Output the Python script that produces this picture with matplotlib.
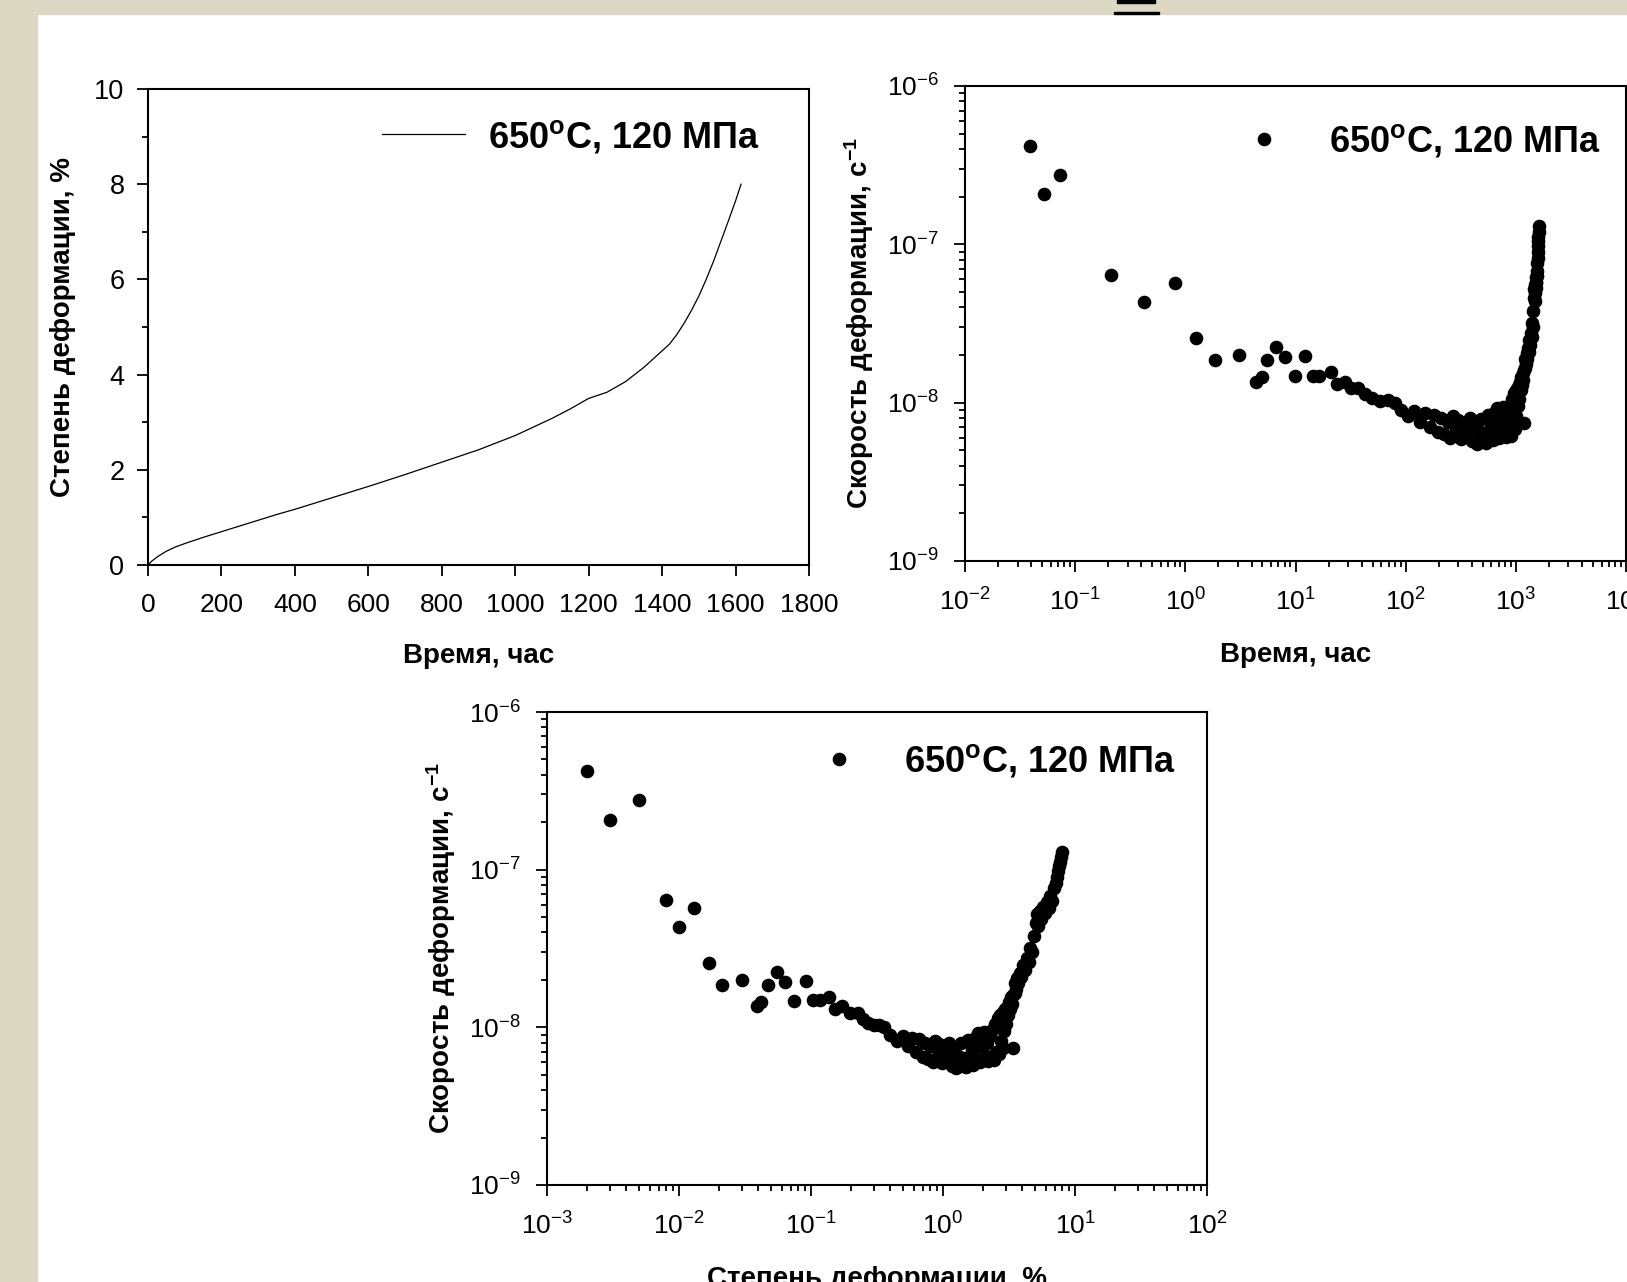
import numpy as np
import matplotlib
matplotlib.use("Agg")
import matplotlib.pyplot as plt
from matplotlib.patches import Rectangle
from matplotlib.ticker import MultipleLocator, LogLocator, NullFormatter

plt.rcParams['font.family'] = ['Liberation Sans', 'DejaVu Sans']
plt.rcParams['mathtext.fontset'] = 'custom'
plt.rcParams['mathtext.rm'] = 'Liberation Sans'
plt.rcParams['mathtext.bf'] = 'Liberation Sans:bold'
plt.rcParams['mathtext.it'] = 'Liberation Sans:italic'
plt.rcParams['axes.unicode_minus'] = False

# Кривая ползучести (время, ч -> деформация, %)
curve_time = [0, 10, 25, 50, 75, 100, 150, 200, 250, 300, 350, 400, 500, 600, 700,
              800, 900, 1000, 1100, 1150, 1200, 1250, 1300, 1350, 1400, 1420, 1440,
              1460, 1480, 1500, 1520, 1540, 1560, 1580, 1600, 1615]
curve_strain = [0, 0.08, 0.17, 0.29, 0.38, 0.45, 0.58, 0.70, 0.82, 0.94, 1.06, 1.17,
                1.41, 1.65, 1.90, 2.16, 2.42, 2.72, 3.08, 3.28, 3.50, 3.63, 3.85, 4.15,
                4.50, 4.64, 4.84, 5.08, 5.35, 5.65, 6.00, 6.38, 6.80, 7.22, 7.65, 8.00]

# Точки скорости деформации: время (ч), деформация (%), скорость (1/с)
pt_time = [0.039, 0.052, 0.073, 0.21, 0.42, 0.80, 1.25, 1.87, 3.1, 4.4, 5.0, 5.5, 6.6,
           8.0, 9.9, 12.3, 14.4, 16.5, 21, 24, 28, 32, 37, 43, 49, 58, 69, 80,
           90, 105, 120, 135, 150, 165, 180, 195, 210, 225, 240, 255, 270, 285, 300,
           320, 340, 360, 380, 400, 420, 440, 460, 480, 500, 520, 540, 560, 580, 600,
           620, 640, 660, 680, 700, 720, 740, 760, 780, 800, 820, 840, 860, 880, 900,
           920, 940, 960, 980, 1000,
           1010, 1020, 1030, 1040, 1050, 1060, 1075, 1090, 1105, 1120, 1135, 1150,
           1165, 1180, 1190, 1200, 1215, 1230, 1250, 1270, 1290, 1310, 1330, 1350,
           1370, 1390, 1410, 1430, 1445, 1460, 1470, 1480, 1490, 1500, 1510, 1520,
           1530, 1540, 1550, 1560, 1570, 1580, 1588, 1595, 1600, 1605, 1610, 1615]
pt_strain = [0.002, 0.003, 0.005, 0.008, 0.010, 0.013, 0.017, 0.021, 0.030, 0.039, 0.042,
             0.047, 0.055, 0.064, 0.074, 0.091, 0.104, 0.117, 0.138, 0.152, 0.171, 0.197,
             0.228, 0.249, 0.27, 0.30, 0.33, 0.36,
             0.40, 0.45, 0.50, 0.54, 0.58, 0.62, 0.66, 0.70, 0.73, 0.77, 0.80, 0.84, 0.87,
             0.91, 0.94, 0.99, 1.03, 1.08, 1.12, 1.17, 1.22, 1.26, 1.31, 1.36, 1.41, 1.45,
             1.50, 1.55, 1.60, 1.65, 1.70, 1.75, 1.80, 1.85, 1.90, 1.95, 2.00, 2.05, 2.10,
             2.16, 2.21, 2.26, 2.31, 2.37, 2.42, 2.48, 2.54, 2.60, 2.66, 2.72,
             2.76, 2.80, 2.83, 2.87, 2.90, 2.94, 3.00, 3.05, 3.10, 3.17, 3.22, 3.28,
             3.35, 3.42, 3.40, 3.50, 3.54, 3.58, 3.63, 3.72, 3.80, 3.90, 4.02, 4.15,
             4.30, 4.45, 4.57, 4.75, 4.90, 5.05, 5.15, 5.25, 5.40, 5.55, 5.70, 5.90,
             6.10, 6.30, 6.50, 6.70, 6.90, 7.15, 7.30, 7.45, 7.60, 7.75, 7.85, 8.00]
pt_rate = [4.2e-7, 2.07e-7, 2.75e-7, 6.4e-8, 4.3e-8, 5.7e-8, 2.55e-8, 1.85e-8, 2.0e-8,
           1.36e-8, 1.45e-8, 1.85e-8, 2.25e-8, 1.93e-8, 1.47e-8, 1.98e-8, 1.48e-8, 1.48e-8,
           1.56e-8, 1.31e-8, 1.36e-8, 1.23e-8, 1.23e-8, 1.13e-8, 1.07e-8, 1.03e-8, 1.04e-8,
           1.0e-8,
           9.0e-9, 8.2e-9, 8.8e-9, 7.6e-9, 8.6e-9, 7.0e-9, 8.4e-9, 6.5e-9, 8.0e-9, 6.3e-9,
           7.6e-9, 6.0e-9, 8.2e-9, 6.6e-9, 7.8e-9, 5.9e-9, 7.2e-9, 6.1e-9, 8.0e-9, 5.7e-9,
           7.0e-9, 5.5e-9, 6.6e-9, 7.9e-9, 5.7e-9, 6.4e-9, 5.6e-9, 8.3e-9, 6.0e-9, 7.2e-9,
           5.8e-9, 8.6e-9, 6.3e-9, 9.2e-9, 6.0e-9, 7.6e-9, 6.2e-9, 9.4e-9, 6.6e-9, 8.0e-9,
           6.1e-9, 8.8e-9, 6.4e-9, 9.6e-9, 6.2e-9, 1.05e-8, 7.0e-9, 1.15e-8, 6.8e-9, 1.2e-8,
           8.2e-9, 1.1e-8, 7.4e-9, 1.25e-8, 9.5e-9, 1.3e-8, 1.05e-8, 1.35e-8, 1.2e-8,
           1.45e-8, 1.3e-8, 1.55e-8, 1.4e-8, 1.6e-8, 7.4e-9, 1.65e-8, 1.9e-8, 1.75e-8,
           2.05e-8, 1.9e-8, 2.2e-8, 2.1e-8, 2.5e-8, 2.3e-8, 2.75e-8, 2.6e-8, 3.2e-8,
           3.0e-8, 3.8e-8, 4.6e-8, 5.2e-8, 4.4e-8, 5.5e-8, 4.9e-8, 5.8e-8, 5.3e-8,
           6.2e-8, 5.7e-8, 6.8e-8, 6.3e-8, 7.6e-8, 8.2e-8, 9.0e-8, 9.8e-8, 1.05e-7,
           1.12e-7, 1.2e-7, 1.3e-7]

legend_label = "650$^{\\mathbf{o}}$C, 120 МПа"

W, H = 1627, 1282
fig = plt.figure(figsize=(W / 100, H / 100), dpi=100, facecolor='white')

# бежевая рамка слайда
beige = '#dcd8c3'
fig.patches.append(Rectangle((0, 1 - 14 / H), 1, 14 / H, transform=fig.transFigure,
                             color=beige, zorder=0))
fig.patches.append(Rectangle((0, 0), 37 / W, 1, transform=fig.transFigure,
                             color=beige, zorder=0))
fig.patches.append(Rectangle((1117 / W, 1 - 3 / H), 38 / W, 3 / H, transform=fig.transFigure,
                             color='black', zorder=1))
fig.patches.append(Rectangle((1114 / W, 1 - 14 / H), 45 / W, 2.5 / H, transform=fig.transFigure,
                             color='black', zorder=1))


def axes_px(left, top, right, bottom):
    return fig.add_axes([left / W, 1 - bottom / H, (right - left) / W, (bottom - top) / H])


def style(ax, size):
    for s in ax.spines.values():
        s.set_linewidth(1.5)
    ax.tick_params(which='both', direction='out', top=False, right=False,
                   labelsize=size, width=1.3)
    ax.tick_params(which='major', length=8)
    ax.tick_params(which='minor', length=4.5)


lab_font = dict(fontsize=20, fontweight='bold')
leg_prop = dict(size=26, weight='bold')

# Деформация от времени
ax1 = axes_px(148, 89, 809, 565)
ax1.plot(curve_time, curve_strain, color='black', lw=0.9, label=legend_label)
ax1.set_xlim(0, 1800)
ax1.set_ylim(0, 10)
ax1.xaxis.set_major_locator(MultipleLocator(200))
ax1.yaxis.set_major_locator(MultipleLocator(2))
ax1.yaxis.set_minor_locator(MultipleLocator(1))
style(ax1, 19.5)
ax1.tick_params(axis='x', pad=12, labelsize=19)
ax1.tick_params(axis='y', pad=9)
ax1.set_xlabel("Время, час", labelpad=19, **lab_font)
ax1.set_ylabel("Степень деформации, %", labelpad=13, **lab_font)
ax1.legend(frameon=False, loc='center right', bbox_to_anchor=(0.926, 0.90),
           prop=leg_prop, handlelength=2.3, handletextpad=0.65,
           borderpad=0, borderaxespad=0)


def log_axes(ax, xmin, xmax):
    ax.set_xscale('log')
    ax.set_yscale('log')
    ax.set_xlim(xmin, xmax)
    ax.set_ylim(1e-9, 1e-6)
    for axis in (ax.xaxis, ax.yaxis):
        axis.set_major_locator(LogLocator(base=10, numticks=20))
        axis.set_minor_locator(LogLocator(base=10, subs=np.arange(2, 10), numticks=20))
        axis.set_minor_formatter(NullFormatter())
    style(ax, 19)
    ax.tick_params(axis='x', pad=12)
    ax.tick_params(axis='y', pad=11)


# Скорость от времени
ax2 = axes_px(965, 86, 1626, 561)
ax2.plot(pt_time, pt_rate, 'o', color='black', ms=8.8, label=legend_label)
log_axes(ax2, 1e-2, 1e4)
ax2.set_xlabel("Время, час", labelpad=19, **lab_font)
ax2.set_ylabel("Скорость деформации, с$^{\\mathbf{-1}}$", labelpad=8, **lab_font)
ax2.legend(frameon=False, loc='center right', bbox_to_anchor=(0.962, 0.884),
           prop=leg_prop, handlelength=1.2, handletextpad=1.2,
           borderpad=0, borderaxespad=0)

# Скорость от деформации
ax3 = axes_px(547, 712, 1207, 1185)
ax3.plot(pt_strain, pt_rate, 'o', color='black', ms=8.8, label=legend_label)
log_axes(ax3, 1e-3, 1e2)
ax3.set_xlabel("Степень деформации, %", labelpad=19, **lab_font)
ax3.set_ylabel("Скорость деформации, с$^{\\mathbf{-1}}$", labelpad=8, **lab_font)
ax3.legend(frameon=False, loc='center right', bbox_to_anchor=(0.953, 0.896),
           prop=leg_prop, handlelength=1.2, handletextpad=1.2,
           borderpad=0, borderaxespad=0)

fig.savefig("out.png", dpi=100, facecolor=fig.get_facecolor())
